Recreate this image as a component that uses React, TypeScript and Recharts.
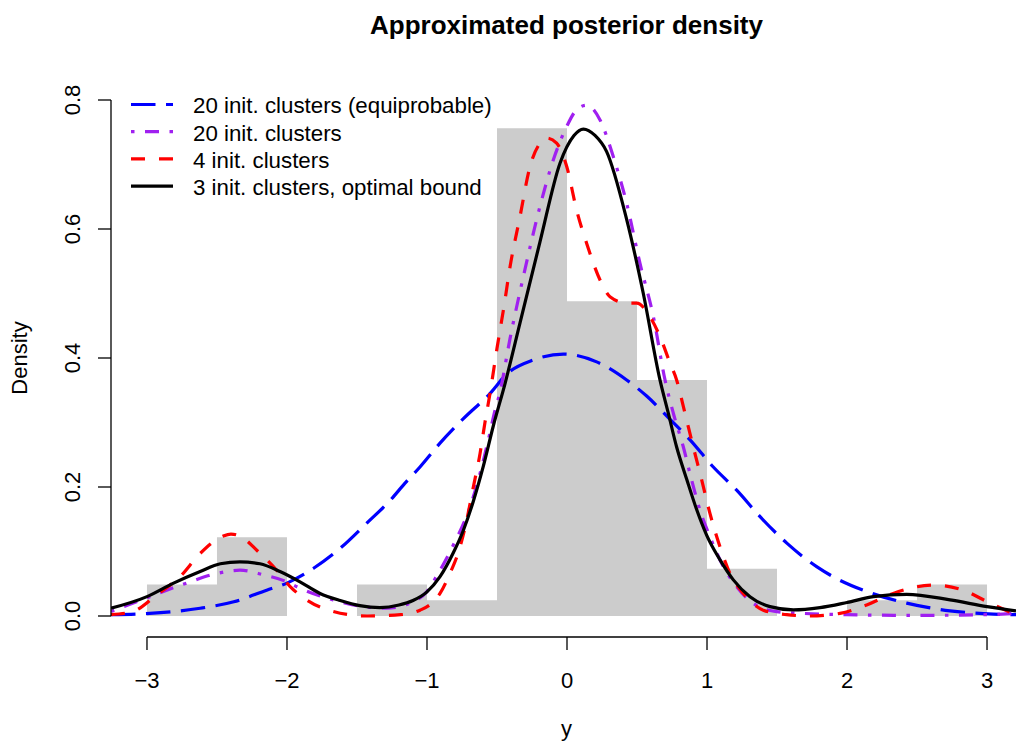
import React from 'react';
import { ComposedChart, Line, Area, XAxis, YAxis, ReferenceLine, Legend } from 'recharts';

// ---------- data ----------
const binEdges = [-3, -2.5, -2, -1.5, -1, -0.5, 0, 0.5, 1, 1.5, 2, 2.5, 3];
const binDensity = [0.0488, 0.122, 0, 0.0488, 0.0244, 0.7561, 0.4878, 0.3659, 0.0732, 0, 0.0244, 0.0488];

const xTicks = [-3, -2, -1, 0, 1, 2, 3];
const yTicks = [0, 0.2, 0.4, 0.6, 0.8];

const blueX = [-3.257, -2.98, -2.62, -2.38, -2.145, -2.0, -1.81, -1.62, -1.43, -1.26, -1.157, -1.05, -0.907, -0.74, -0.55, -0.431, -0.24, -0.026, 0.212, 0.426, 0.569, 0.736, 0.879, 1.045, 1.212, 1.379, 1.57, 1.783, 1.9, 2.14, 2.426, 2.736, 3.045, 3.207];
const blueY = [0.002, 0.004, 0.012, 0.022, 0.04, 0.051, 0.074, 0.105, 0.144, 0.18, 0.206, 0.231, 0.268, 0.306, 0.345, 0.375, 0.397, 0.406, 0.394, 0.366, 0.341, 0.305, 0.273, 0.231, 0.195, 0.154, 0.113, 0.0765, 0.061, 0.038, 0.02, 0.008, 0.003, 0.002];

const purpleX = [-3.257, -2.98, -2.717, -2.5, -2.336, -2.17, -2.0, -1.907, -1.67, -1.48, -1.29, -1.1, -1.0, -0.931, -0.871, -0.812, -0.693, -0.621, -0.562, -0.514, -0.479, -0.407, -0.312, -0.193, -0.098, -0.002, 0.069, 0.14, 0.236, 0.331, 0.426, 0.521, 0.617, 0.7, 0.76, 0.831, 0.89, 0.95, 1.021, 1.117, 1.212, 1.33, 1.498, 1.69, 2.0, 2.5, 3.0, 3.207];
const purpleY = [0.007, 0.03, 0.051, 0.066, 0.071, 0.064, 0.053, 0.043, 0.025, 0.0155, 0.012, 0.022, 0.038, 0.062, 0.085, 0.11, 0.169, 0.221, 0.273, 0.319, 0.347, 0.43, 0.526, 0.635, 0.707, 0.759, 0.785, 0.792, 0.769, 0.712, 0.64, 0.547, 0.464, 0.366, 0.314, 0.262, 0.211, 0.164, 0.123, 0.0765, 0.0455, 0.0197, 0.0067, 0.004, 0.002, 0.001, 0.002, 0.004];

const redX = [-3.257, -3.1, -2.93, -2.764, -2.62, -2.455, -2.4, -2.336, -2.216, -2.074, -1.979, -1.86, -1.67, -1.43, -1.19, -1.05, -0.955, -0.907, -0.836, -0.764, -0.716, -0.669, -0.621, -0.586, -0.55, -0.5, -0.45, -0.407, -0.336, -0.264, -0.193, -0.145, -0.074, -0.002, 0.069, 0.14, 0.236, 0.307, 0.426, 0.498, 0.593, 0.67, 0.736, 0.783, 0.843, 0.902, 0.962, 1.021, 1.093, 1.164, 1.26, 1.402, 1.57, 1.736, 1.95, 2.14, 2.33, 2.617, 2.83, 3.02, 3.207];
const redY = [0.002, 0.007, 0.033, 0.061, 0.097, 0.124, 0.127, 0.124, 0.102, 0.071, 0.046, 0.025, 0.007, 0.0, 0.002, 0.009, 0.022, 0.035, 0.066, 0.107, 0.149, 0.2, 0.252, 0.3, 0.345, 0.415, 0.48, 0.541, 0.619, 0.697, 0.733, 0.741, 0.733, 0.697, 0.629, 0.578, 0.521, 0.495, 0.485, 0.485, 0.464, 0.43, 0.392, 0.366, 0.314, 0.262, 0.211, 0.159, 0.107, 0.066, 0.035, 0.009, 0.002, 0.0, 0.004, 0.017, 0.035, 0.048, 0.04, 0.02, 0.002];

const blackX = [-3.257, -3.0, -2.81, -2.62, -2.476, -2.336, -2.193, -2.05, -1.907, -1.764, -1.62, -1.48, -1.336, -1.2, -1.1, -1.002, -0.907, -0.812, -0.74, -0.669, -0.598, -0.526, -0.443, -0.336, -0.193, -0.05, 0.05, 0.117, 0.2, 0.283, 0.426, 0.545, 0.664, 0.724, 0.783, 0.855, 0.926, 0.998, 1.093, 1.188, 1.307, 1.45, 1.617, 1.807, 2.0, 2.188, 2.426, 2.736, 3.0, 3.207];
const blackY = [0.012, 0.03, 0.051, 0.069, 0.081, 0.084, 0.081, 0.069, 0.053, 0.035, 0.024, 0.016, 0.013, 0.017, 0.024, 0.037, 0.061, 0.098, 0.133, 0.178, 0.232, 0.295, 0.36, 0.454, 0.58, 0.702, 0.745, 0.755, 0.745, 0.72, 0.615, 0.5, 0.366, 0.314, 0.262, 0.212, 0.165, 0.125, 0.087, 0.056, 0.03, 0.0145, 0.0095, 0.013, 0.021, 0.03, 0.0336, 0.025, 0.0145, 0.008];

const seriesLabels = [
  '20 init. clusters (equiprobable)',
  '20 init. clusters',
  '4 init. clusters',
  '3 init. clusters, optimal bound',
];

// ---------- layout / style ----------
const W = 1016;
const H = 744;
const FONT = '"Liberation Sans", Arial, Helvetica, sans-serif';
const PLOT_LEFT = 111;
const PLOT_TOP = 79;
const PLOT_BOTTOM = 637;
const Y_AXIS_W = 60;
const X_AXIS_H = 60;
const X_DOMAIN: [number, number] = [-3.257, 3.207];
const Y_DOMAIN: [number, number] = [-0.032558, 0.832558];
const LW = 3.2;

const seriesStyles = [
  { color: '#0000FF', dash: '24.5 10.5' },
  { color: '#A020F0', dash: '3.5 10.5 14 10.5' },
  { color: '#FF0000', dash: '14 14' },
  { color: '#000000', dash: undefined as string | undefined },
];

const toRows = (xs: number[], ys: number[]) => xs.map((x, i) => ({ x, y: ys[i] }));
const histRows = binEdges.map((e, i) => ({ x: e, h: i < binDensity.length ? binDensity[i] : binDensity[binDensity.length - 1] }));
const curves = [toRows(blueX, blueY), toRows(purpleX, purpleY), toRows(redX, redY), toRows(blackX, blackY)];

const fmtX = (v: number) => (v < 0 ? `\u2212${-v}` : `${v}`);

const YTick = (props: any) => {
  const { x, y, payload } = props;
  return (
    <text x={x} y={y} transform={`rotate(-90 ${x} ${y})`} textAnchor="middle" fontSize={22} fontFamily={FONT} fill="#000">
      {Number(payload.value).toFixed(1)}
    </text>
  );
};

const LegendContent = () => (
  <svg width={520} height={210} style={{ display: 'block' }}>
    {seriesLabels.map((label, i) => {
      const cy = 104.5 + 27.2 * i;
      const s = seriesStyles[i];
      return (
        <g key={label}>
          <line x1={131} x2={173} y1={cy} y2={cy} stroke={s.color} strokeWidth={LW} strokeDasharray={s.dash} />
          <text x={193} y={cy + 8.8} fontSize={22.3} fontFamily={FONT} fill="#000">{label}</text>
        </g>
      );
    })}
  </svg>
);

export default function App() {
  return (
    <div style={{ position: 'relative', width: W, height: H, background: '#fff' }}>
      <style>{'body{margin:0;}'}</style>
      <ComposedChart
        width={W}
        height={H}
        margin={{ top: PLOT_TOP, right: 0, bottom: H - PLOT_BOTTOM - X_AXIS_H, left: PLOT_LEFT - Y_AXIS_W }}
      >
        <XAxis
          type="number"
          dataKey="x"
          domain={X_DOMAIN}
          allowDataOverflow
          ticks={xTicks}
          interval={0}
          tickFormatter={fmtX}
          tickSize={13}
          tickMargin={22}
          axisLine={false}
          tickLine={{ stroke: '#000', strokeWidth: 1.3 }}
          tick={{ fill: '#000', fontSize: 22, fontFamily: FONT }}
          height={X_AXIS_H}
        />
        <YAxis
          type="number"
          domain={Y_DOMAIN}
          allowDataOverflow
          ticks={yTicks}
          interval={0}
          tickSize={13}
          tickMargin={18}
          axisLine={false}
          tickLine={{ stroke: '#000', strokeWidth: 1.3 }}
          tick={<YTick />}
          width={Y_AXIS_W}
        />
        <Area
          data={histRows}
          dataKey="h"
          type="stepAfter"
          baseValue={0}
          stroke="none"
          fill="#CCCCCC"
          fillOpacity={1}
          isAnimationActive={false}
          dot={false}
          activeDot={false}
        />
        {curves.map((rows, i) => (
          <Line
            key={seriesLabels[i]}
            data={rows}
            dataKey="y"
            type="monotone"
            stroke={seriesStyles[i].color}
            strokeWidth={LW}
            strokeDasharray={seriesStyles[i].dash}
            dot={false}
            activeDot={false}
            isAnimationActive={false}
          />
        ))}
        <ReferenceLine
          segment={[{ x: -3, y: Y_DOMAIN[0] }, { x: 3, y: Y_DOMAIN[0] }]}
          stroke="#000"
          strokeWidth={1.3}
          ifOverflow="visible"
        />
        <ReferenceLine
          segment={[{ x: X_DOMAIN[0], y: 0 }, { x: X_DOMAIN[0], y: 0.8 }]}
          stroke="#000"
          strokeWidth={1.3}
          ifOverflow="visible"
        />
        <Legend
          content={<LegendContent />}
          layout="horizontal"
          verticalAlign="middle"
          align="center"
          wrapperStyle={{ position: 'absolute', left: 0, top: 0, width: 520, height: 210 }}
        />
      </ComposedChart>
      <svg width={W} height={H} style={{ position: 'absolute', left: 0, top: 0, pointerEvents: 'none' }}>
        <text x={566.5} y={34} textAnchor="middle" fontSize={26} fontWeight="bold" fontFamily={FONT} fill="#000">
          Approximated posterior density
        </text>
        <text x={566.5} y={736} textAnchor="middle" fontSize={22} fontFamily={FONT} fill="#000">y</text>
        <text x={26.7} y={358} transform="rotate(-90 26.7 358)" textAnchor="middle" fontSize={22} fontFamily={FONT} fill="#000">
          Density
        </text>
      </svg>
    </div>
  );
}
